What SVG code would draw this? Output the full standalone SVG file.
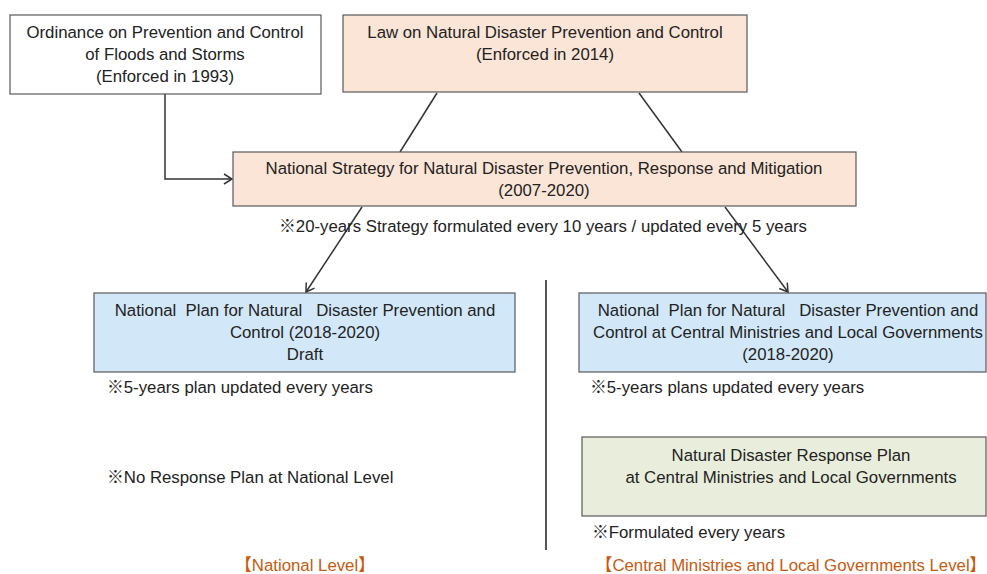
<svg xmlns="http://www.w3.org/2000/svg" width="987" height="574" viewBox="0 0 987 574">
<defs>
<marker id="arr" markerWidth="12" markerHeight="12" refX="10" refY="6" orient="auto" markerUnits="userSpaceOnUse">
<path d="M2,1 L10,6 L2,11" fill="none" stroke="#333" stroke-width="1.5"/>
</marker>
</defs>
<style>
text{font-family:"Liberation Sans","Noto Sans CJK JP",Arial,sans-serif;font-size:16.8px;fill:#222;}
.c{text-anchor:middle;}
.lvl{fill:#C55A11;}
.box{stroke:#595959;stroke-width:1.2;}
.white{fill:#fff;}
.peach{fill:#FBE5D6;}
.blue{fill:#D2E8F8;}
.green{fill:#E9EEDC;}
.con{stroke:#333;stroke-width:1.5;fill:none;}
</style>
<rect width="987" height="574" fill="#fff"/>
<g id="connectors">
<polyline class="con" points="165,94 165,179 232,179" marker-end="url(#arr)"/>
<line class="con" x1="437" y1="93" x2="400" y2="152"/>
<line class="con" x1="639" y1="93" x2="682" y2="152"/>
<line class="con" x1="362" y1="207" x2="306" y2="292" marker-end="url(#arr)"/>
<line class="con" x1="725" y1="207" x2="788" y2="292" marker-end="url(#arr)"/>
<line x1="546" y1="280" x2="546" y2="550" stroke="#555" stroke-width="2"/>
</g>
<g id="ordinance">
<rect class="box white" x="10" y="15" width="311" height="79"/>
<text class="c" x="165" y="38">Ordinance on Prevention and Control</text>
<text class="c" x="165" y="60">of Floods and Storms</text>
<text class="c" x="165" y="82">(Enforced in 1993)</text>
</g>
<g id="law">
<rect class="box peach" x="343" y="15" width="404" height="77"/>
<text class="c" x="545" y="38">Law on Natural Disaster Prevention and Control</text>
<text class="c" x="545" y="60">(Enforced in 2014)</text>
</g>
<g id="strategy">
<rect class="box peach" x="233" y="152" width="623" height="54"/>
<text class="c" x="544" y="174">National Strategy for Natural Disaster Prevention, Response and Mitigation</text>
<text class="c" x="544" y="196">(2007-2020)</text>
<text class="c" x="543" y="232">※20-years Strategy formulated every 10 years / updated every 5 years</text>
</g>
<g id="national-plan">
<rect class="box blue" x="94" y="293" width="421" height="79"/>
<text class="c" x="305" y="316" xml:space="preserve">National  Plan for Natural   Disaster Prevention and</text>
<text class="c" x="305" y="338">Control (2018-2020)</text>
<text class="c" x="305" y="360">Draft</text>
<text x="107" y="393">※5-years plan updated every years</text>
</g>
<g id="national-no-response">
<text x="107" y="483">※No Response Plan at National Level</text>
</g>
<g id="central-plan">
<rect class="box blue" x="579" y="293" width="407" height="79"/>
<text class="c" x="788" y="316" xml:space="preserve">National  Plan for Natural   Disaster Prevention and</text>
<text class="c" x="788" y="338">Control at Central Ministries and Local Governments</text>
<text class="c" x="788" y="360">(2018-2020)</text>
<text x="590" y="393">※5-years plans updated every years</text>
</g>
<g id="response-plan">
<rect class="box green" x="582" y="437" width="404" height="79"/>
<text class="c" x="791" y="461">Natural Disaster Response Plan</text>
<text class="c" x="791" y="483">at Central Ministries and Local Governments</text>
<text x="592" y="538">※Formulated every years</text>
</g>
<g id="levels">
<text class="c lvl" x="305" y="571">【National Level】</text>
<text class="c lvl" x="791" y="571">【Central Ministries and Local Governments Level】</text>
</g>
</svg>
